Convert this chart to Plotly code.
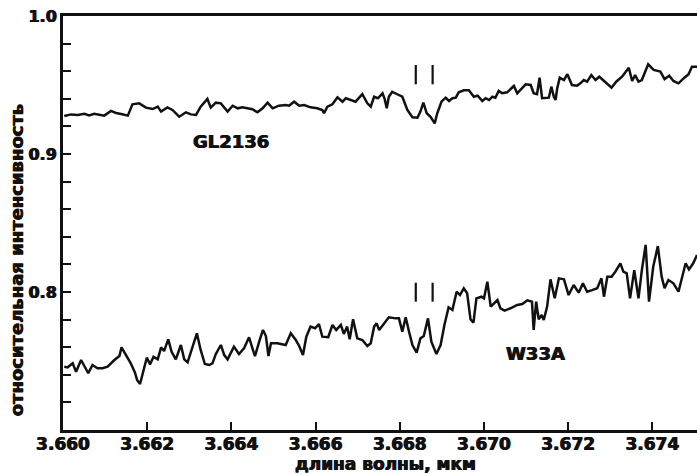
import plotly.graph_objects as go

# --- data ---
gl_wl = [3.66003, 3.66019, 3.66035, 3.66051, 3.66062, 3.66074, 3.66086, 3.66098, 3.66114, 3.66126,
         3.66138, 3.66154, 3.66165, 3.66181, 3.66197, 3.66213, 3.66225, 3.66233, 3.66248, 3.66260,
         3.66276, 3.66292, 3.66304, 3.66316, 3.66327, 3.66343, 3.66351, 3.66363, 3.66375, 3.66391,
         3.66403, 3.66415, 3.66426, 3.66438, 3.66450, 3.66462, 3.66474, 3.66486, 3.66498, 3.66513,
         3.66529, 3.66537, 3.66549, 3.66561, 3.66573, 3.66588, 3.66604, 3.66616, 3.66620, 3.66628,
         3.66640, 3.66652, 3.66664, 3.66672, 3.66683, 3.66695, 3.66711, 3.66723, 3.66731, 3.66739,
         3.66748, 3.66759, 3.66764, 3.66769, 3.66774, 3.66782, 3.66794, 3.66806, 3.66818, 3.66830,
         3.66842, 3.66849, 3.66856, 3.66864, 3.66873, 3.66883, 3.66889, 3.66899, 3.66909, 3.66917,
         3.66925, 3.66933, 3.66940, 3.66952, 3.66964, 3.66976, 3.66985, 3.66996, 3.67004, 3.67012,
         3.67020, 3.67027, 3.67035, 3.67043, 3.67055, 3.67071, 3.67079, 3.67091, 3.67099, 3.67111,
         3.67118, 3.67126, 3.67132, 3.67138, 3.67146, 3.67154, 3.67160, 3.67166, 3.67170, 3.67174,
         3.67180, 3.67190, 3.67198, 3.67209, 3.67221, 3.67229, 3.67237, 3.67245, 3.67255, 3.67265,
         3.67274, 3.67288, 3.67303, 3.67314, 3.67328, 3.67344, 3.67352, 3.67359, 3.67367, 3.67375,
         3.67390, 3.67403, 3.67419, 3.67429, 3.67440, 3.67450, 3.67462, 3.67476, 3.67486, 3.67494,
         3.67506]
gl_int = [0.9275, 0.9287, 0.9283, 0.9292, 0.9280, 0.9292, 0.9285, 0.9278, 0.9312, 0.9297,
          0.9290, 0.9278, 0.9360, 0.9367, 0.9336, 0.9326, 0.9343, 0.9307, 0.9338, 0.9319,
          0.9270, 0.9302, 0.9287, 0.9283, 0.9343, 0.9399, 0.9336, 0.9372, 0.9367, 0.9307,
          0.9350, 0.9331, 0.9338, 0.9331, 0.9324, 0.9302, 0.9331, 0.9372, 0.9331, 0.9350,
          0.9355, 0.9350, 0.9379, 0.9350, 0.9355, 0.9338, 0.9331, 0.9319, 0.9295, 0.9343,
          0.9360, 0.9411, 0.9379, 0.9404, 0.9391, 0.9379, 0.9433, 0.9367, 0.9343, 0.9415,
          0.9404, 0.9440, 0.9399, 0.9331, 0.9415, 0.9451, 0.9433, 0.9415, 0.9319, 0.9266,
          0.9263, 0.9307, 0.9372, 0.9295, 0.9270, 0.9222, 0.9295, 0.9379, 0.9408, 0.9384,
          0.9404, 0.9408, 0.9447, 0.9462, 0.9462, 0.9415, 0.9423, 0.9384, 0.9404, 0.9391,
          0.9415, 0.9408, 0.9457, 0.9440, 0.9447, 0.9493, 0.9440, 0.9476, 0.9505, 0.9500,
          0.9440, 0.9433, 0.9553, 0.9404, 0.9408, 0.9408, 0.9488, 0.9415, 0.9391, 0.9476,
          0.9553, 0.9536, 0.9578, 0.9500, 0.9495, 0.9512, 0.9536, 0.9524, 0.9572, 0.9536,
          0.9560, 0.9524, 0.9480, 0.9524, 0.9560, 0.9625, 0.9529, 0.9572, 0.9524, 0.9536,
          0.9650, 0.9609, 0.9597, 0.9543, 0.9567, 0.9529, 0.9512, 0.9553, 0.9578, 0.9633,
          0.9633]

w33_wl = [3.66003, 3.66011, 3.66023, 3.66031, 3.66043, 3.66051, 3.66060, 3.66070, 3.66082, 3.66094,
          3.66106, 3.66122, 3.66134, 3.66139, 3.66149, 3.66161, 3.66171, 3.66176, 3.66183, 3.66191,
          3.66199, 3.66207, 3.66215, 3.66225, 3.66233, 3.66240, 3.66250, 3.66258, 3.66268, 3.66280,
          3.66288, 3.66296, 3.66305, 3.66318, 3.66327, 3.66337, 3.66347, 3.66355, 3.66363, 3.66375,
          3.66383, 3.66391, 3.66406, 3.66418, 3.66430, 3.66442, 3.66450, 3.66456, 3.66466, 3.66475,
          3.66482, 3.66488, 3.66494, 3.66509, 3.66529, 3.66541, 3.66553, 3.66561, 3.66570, 3.66578,
          3.66588, 3.66599, 3.66608, 3.66616, 3.66630, 3.66640, 3.66649, 3.66660, 3.66667, 3.66675,
          3.66681, 3.66689, 3.66699, 3.66711, 3.66723, 3.66731, 3.66739, 3.66745, 3.66751, 3.66762,
          3.66774, 3.66790, 3.66798, 3.66806, 3.66814, 3.66822, 3.66830, 3.66840, 3.66849, 3.66857,
          3.66867, 3.66875, 3.66887, 3.66897, 3.66906, 3.66916, 3.66925, 3.66935, 3.66943, 3.66952,
          3.66960, 3.66968, 3.66975, 3.66982, 3.66994, 3.67000, 3.67008, 3.67016, 3.67025, 3.67032,
          3.67039, 3.67049, 3.67063, 3.67079, 3.67091, 3.67103, 3.67114, 3.67118, 3.67124, 3.67130,
          3.67137, 3.67142, 3.67150, 3.67158, 3.67168, 3.67178, 3.67190, 3.67201, 3.67213, 3.67225,
          3.67235, 3.67245, 3.67257, 3.67269, 3.67279, 3.67285, 3.67293, 3.67303, 3.67312, 3.67324,
          3.67331, 3.67339, 3.67347, 3.67357, 3.67367, 3.67375, 3.67384, 3.67392, 3.67402, 3.67413,
          3.67422, 3.67429, 3.67438, 3.67450, 3.67462, 3.67470, 3.67479, 3.67487, 3.67497, 3.67506]
w33_int = [0.7459, 0.7454, 0.7483, 0.7422, 0.7507, 0.7459, 0.7411, 0.7471, 0.7447, 0.7447,
           0.7459, 0.7507, 0.7536, 0.7599, 0.7543, 0.7483, 0.7415, 0.7362, 0.7333, 0.7435,
           0.7524, 0.7476, 0.7531, 0.7512, 0.7599, 0.7572, 0.7657, 0.7567, 0.7512, 0.7616,
           0.7512, 0.7490, 0.7580, 0.7701, 0.7580, 0.7478, 0.7471, 0.7483, 0.7550, 0.7616,
           0.7543, 0.7512, 0.7604, 0.7551, 0.7592, 0.7672, 0.7592, 0.7536, 0.7640, 0.7725,
           0.7681, 0.7536, 0.7628, 0.7628, 0.7616, 0.7701, 0.7652, 0.7609, 0.7543, 0.7676,
           0.7749, 0.7737, 0.7768, 0.7676, 0.7672, 0.7761, 0.7725, 0.7761, 0.7696, 0.7749,
           0.7657, 0.7802, 0.7664, 0.7652, 0.7609, 0.7628, 0.7749, 0.7773, 0.7725, 0.7773,
           0.7817, 0.7809, 0.7809, 0.7712, 0.7817, 0.7712, 0.7616, 0.7560, 0.7664, 0.7681,
           0.7809, 0.7640, 0.7551, 0.7616, 0.7761, 0.7889, 0.7870, 0.8002, 0.7978, 0.8027,
           0.7991, 0.7802, 0.7778, 0.7954, 0.7966, 0.7954, 0.8075, 0.7894, 0.7918, 0.7942,
           0.7882, 0.7865, 0.7882, 0.7906, 0.7913, 0.7940, 0.7930, 0.7725, 0.7930, 0.7802,
           0.7833, 0.7797, 0.7894, 0.8092, 0.7954, 0.8099, 0.8092, 0.7978, 0.8051, 0.7995,
           0.8063, 0.8002, 0.8014, 0.8027, 0.8099, 0.7966, 0.8111, 0.8111, 0.8147, 0.8208,
           0.8147, 0.8135, 0.7954, 0.8159, 0.7954, 0.8159, 0.8341, 0.7930, 0.8183, 0.8333,
           0.8111, 0.8027, 0.8087, 0.8063, 0.8002, 0.8099, 0.8208, 0.8164, 0.8208, 0.8268]

# line-position markers ("| |")
marker_wl = [3.66838, 3.66878]
gl_marker_range = [0.9505, 0.9645]
w33_marker_range = [0.7930, 0.8067]

x_ticks = [3.660, 3.662, 3.664, 3.666, 3.668, 3.670, 3.672, 3.674]
x_ticktext = ["3.660", "3.662", "3.664", "3.666", "3.668", "3.670", "3.672", "3.674"]
y_ticks = [0.8, 0.9, 1.0]
y_ticktext = ["0.8", "0.9", "1.0"]

x_title = "длина волны, мкм"
y_title = "относительная интенсивность"
labels = {"GL2136": (3.66399, 0.9087), "W33A": (3.67122, 0.7558)}

FONT = "DejaVu Sans"
INK = "#111111"
HEAVY = "0.5px 0px 0px #111111, -0.5px 0px 0px #111111"


def bold(size):
    return dict(family=FONT, size=size, color=INK, weight="bold", shadow=HEAVY)


fig = go.Figure()
fig.add_trace(go.Scatter(x=gl_wl, y=gl_int, mode="lines",
                         line=dict(color=INK, width=2.5), hoverinfo="skip"))
fig.add_trace(go.Scatter(x=w33_wl, y=w33_int, mode="lines",
                         line=dict(color=INK, width=2.5), hoverinfo="skip"))

mx, my = [], []
for rng in (gl_marker_range, w33_marker_range):
    for w in marker_wl:
        mx += [w, w, None]
        my += [rng[0], rng[1], None]
fig.add_trace(go.Scatter(x=mx, y=my, mode="lines",
                         line=dict(color=INK, width=2.2), hoverinfo="skip"))

for txt, (lx, ly) in labels.items():
    fig.add_annotation(x=lx, y=ly, text=txt, showarrow=False, font=bold(18))

fig.add_annotation(x=0.509, y=-0.082, xref="paper", yref="paper", text=x_title,
                   showarrow=False, xanchor="center", yanchor="middle", borderpad=0,
                   font=bold(17))
fig.add_annotation(x=-0.074, y=0.41, xref="paper", yref="paper", text=y_title,
                   showarrow=False, textangle=-90, xanchor="center", yanchor="middle",
                   font=bold(18))

fig.update_layout(
    width=697, height=474,
    margin=dict(l=63, r=0, t=16, b=44),
    paper_bgcolor="white", plot_bgcolor="white",
    showlegend=False,
    xaxis=dict(range=[3.660, 3.67506], showline=True, linewidth=3, linecolor=INK,
               mirror=True, ticks="inside", ticklen=8, tickwidth=2, tickcolor=INK,
               tickvals=x_ticks, ticktext=x_ticktext, showgrid=False, zeroline=False,
               ticklabelstandoff=-3, tickfont=bold(17)),
    yaxis=dict(range=[0.7, 1.0], showline=True, linewidth=3, linecolor=INK,
               ticks="inside", ticklen=8, tickwidth=2, tickcolor=INK,
               tickvals=y_ticks, ticktext=y_ticktext, showgrid=False, zeroline=False,
               minor=dict(tick0=0.7, dtick=0.02, ticks="inside", ticklen=8,
                          tickwidth=2, tickcolor=INK, showgrid=False),
               tickfont=bold(16)),
)

fig.write_html("out.html", config={"displayModeBar": False},
               post_script="document.body.style.margin='0px';document.body.style.padding='0px';")
